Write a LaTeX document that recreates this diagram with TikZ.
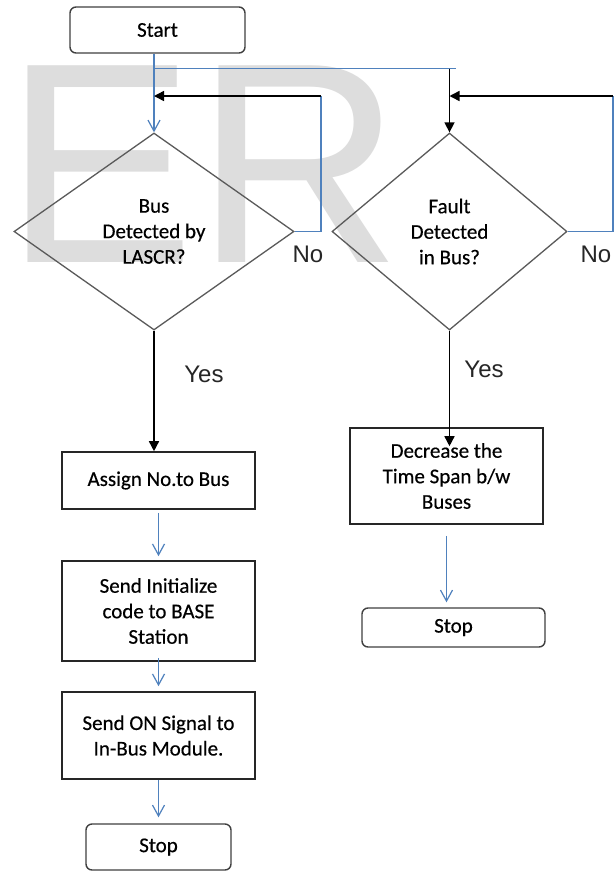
\documentclass[tikz,border=0pt]{standalone}
\usepackage{fontspec}
\setmainfont{Carlito}
\newfontfamily\boxf{Carlito}[FakeBold=0.4]
\newfontfamily\arialf{Liberation Sans}
\usetikzlibrary{arrows.meta,shapes.geometric,calc}
\definecolor{lnblue}{HTML}{4F81BD}
\definecolor{dgray}{HTML}{5A5A5A}
\definecolor{wmgray}{HTML}{DDDDDD}
\begin{document}
\begin{tikzpicture}[x=1pt,y=-1pt,
  font=\boxf\fontsize{21}{25.5}\selectfont,
  box/.style={draw=black!85, line width=1.6pt, minimum width=193pt, inner sep=0pt, align=center, text=black},
  rbox/.style={draw=black!75, line width=1.4pt, rounded corners=6pt, inner sep=0pt, align=center, text=black},
  decision/.style={diamond, draw=dgray, line width=1.3pt, inner sep=0pt, align=center, text=black},
  barrow/.style={lnblue, line width=1.2pt, -{Straight Barb[length=11pt,width=12pt]}},
  karrow/.style={black, line width=1.5pt, -{Triangle[length=10pt,width=10pt]}},
  bline/.style={lnblue, line width=1.2pt},
  lbl/.style={font=\arialf\fontsize{24}{24}\selectfont, text=black!85, inner sep=0pt},
  wmark/.style={font=\arialf\fontsize{286}{300}\selectfont, text=wmgray, inner sep=0pt, anchor=base west}
]
\useasboundingbox (0,0) rectangle (615,871);
\fill[white] (0,0) rectangle (615,871);

% watermark
\node[wmark] (wm) at (4.4,262) {ER};

% nodes
\node[rbox, minimum width=175pt, minimum height=46pt] (start) at (157.5,30) {Start};
\node[decision, minimum width=280pt, minimum height=197pt] (d1) at (154,231.5) {Bus\\Detected by\\LASCR?};
\node[decision, minimum width=235pt, minimum height=197pt] (d2) at (449.5,231.5) {Fault\\Detected\\in Bus?};
\node[box, minimum height=57pt] (a1) at (158.5,480.5) {Assign No.to Bus};
\node[box, minimum height=100pt] (a2) at (158.5,611) {Send Initialize\\code to BASE\\Station};
\node[box, minimum height=87pt] (a3) at (158.5,735.5) {Send ON Signal to\\In-Bus Module.};
\node[rbox, minimum width=145pt, minimum height=46pt] (s1) at (158.5,847) {Stop};
\node[box, minimum height=96pt] (dc) at (446.5,476) {Decrease the\\Time Span b/w\\Buses};
\node[rbox, minimum width=183pt, minimum height=39pt] (s2) at (453.5,627.5) {Stop};

% labels
\node[lbl] (n1) at (308,254) {No};
\node[lbl] (n2) at (596,254) {No};
\node[lbl] (y1) at (204,374) {Yes};
\node[lbl] (y2) at (484,369) {Yes};

% coordinates
\coordinate (j0) at ($(start.south -| d1.north)+(0,15)$);
\coordinate (j2) at (d2.north |- j0);
\coordinate (r1) at (321,96);
\coordinate (r2) at (613,96);

% connectors
\draw[barrow] (start.south -| d1.north) -- (d1.north);
\draw[bline] (j0) -- ($(j2)+(6,0)$);
\draw[karrow] (j2) -- (d2.north);

\draw[bline] (d1.east) -| (r1);
\draw[karrow] (r1) -- (r1 -| d1.north);
\draw[bline] (d2.east) -| (r2);
\draw[karrow] (r2) -- (r2 -| d2.north);

\draw[karrow] (d1.south) -- (d1.south |- a1.north);
\draw[karrow] (d2.south) -- ($(d2.south |- dc.north)+(0,19)$);

\draw[barrow, shorten <=3pt, shorten >=4pt] (a1.south) -- (a2.north);
\draw[barrow, shorten <=-4pt, shorten >=5pt] (a2.south) -- (a3.north);
\draw[barrow, shorten >=6pt] (a3.south) -- (a3.south |- s1.north);
\draw[barrow, shorten <=11pt, shorten >=5pt] (dc.south) -- (dc.south |- s2.north);
\end{tikzpicture}
\end{document}
